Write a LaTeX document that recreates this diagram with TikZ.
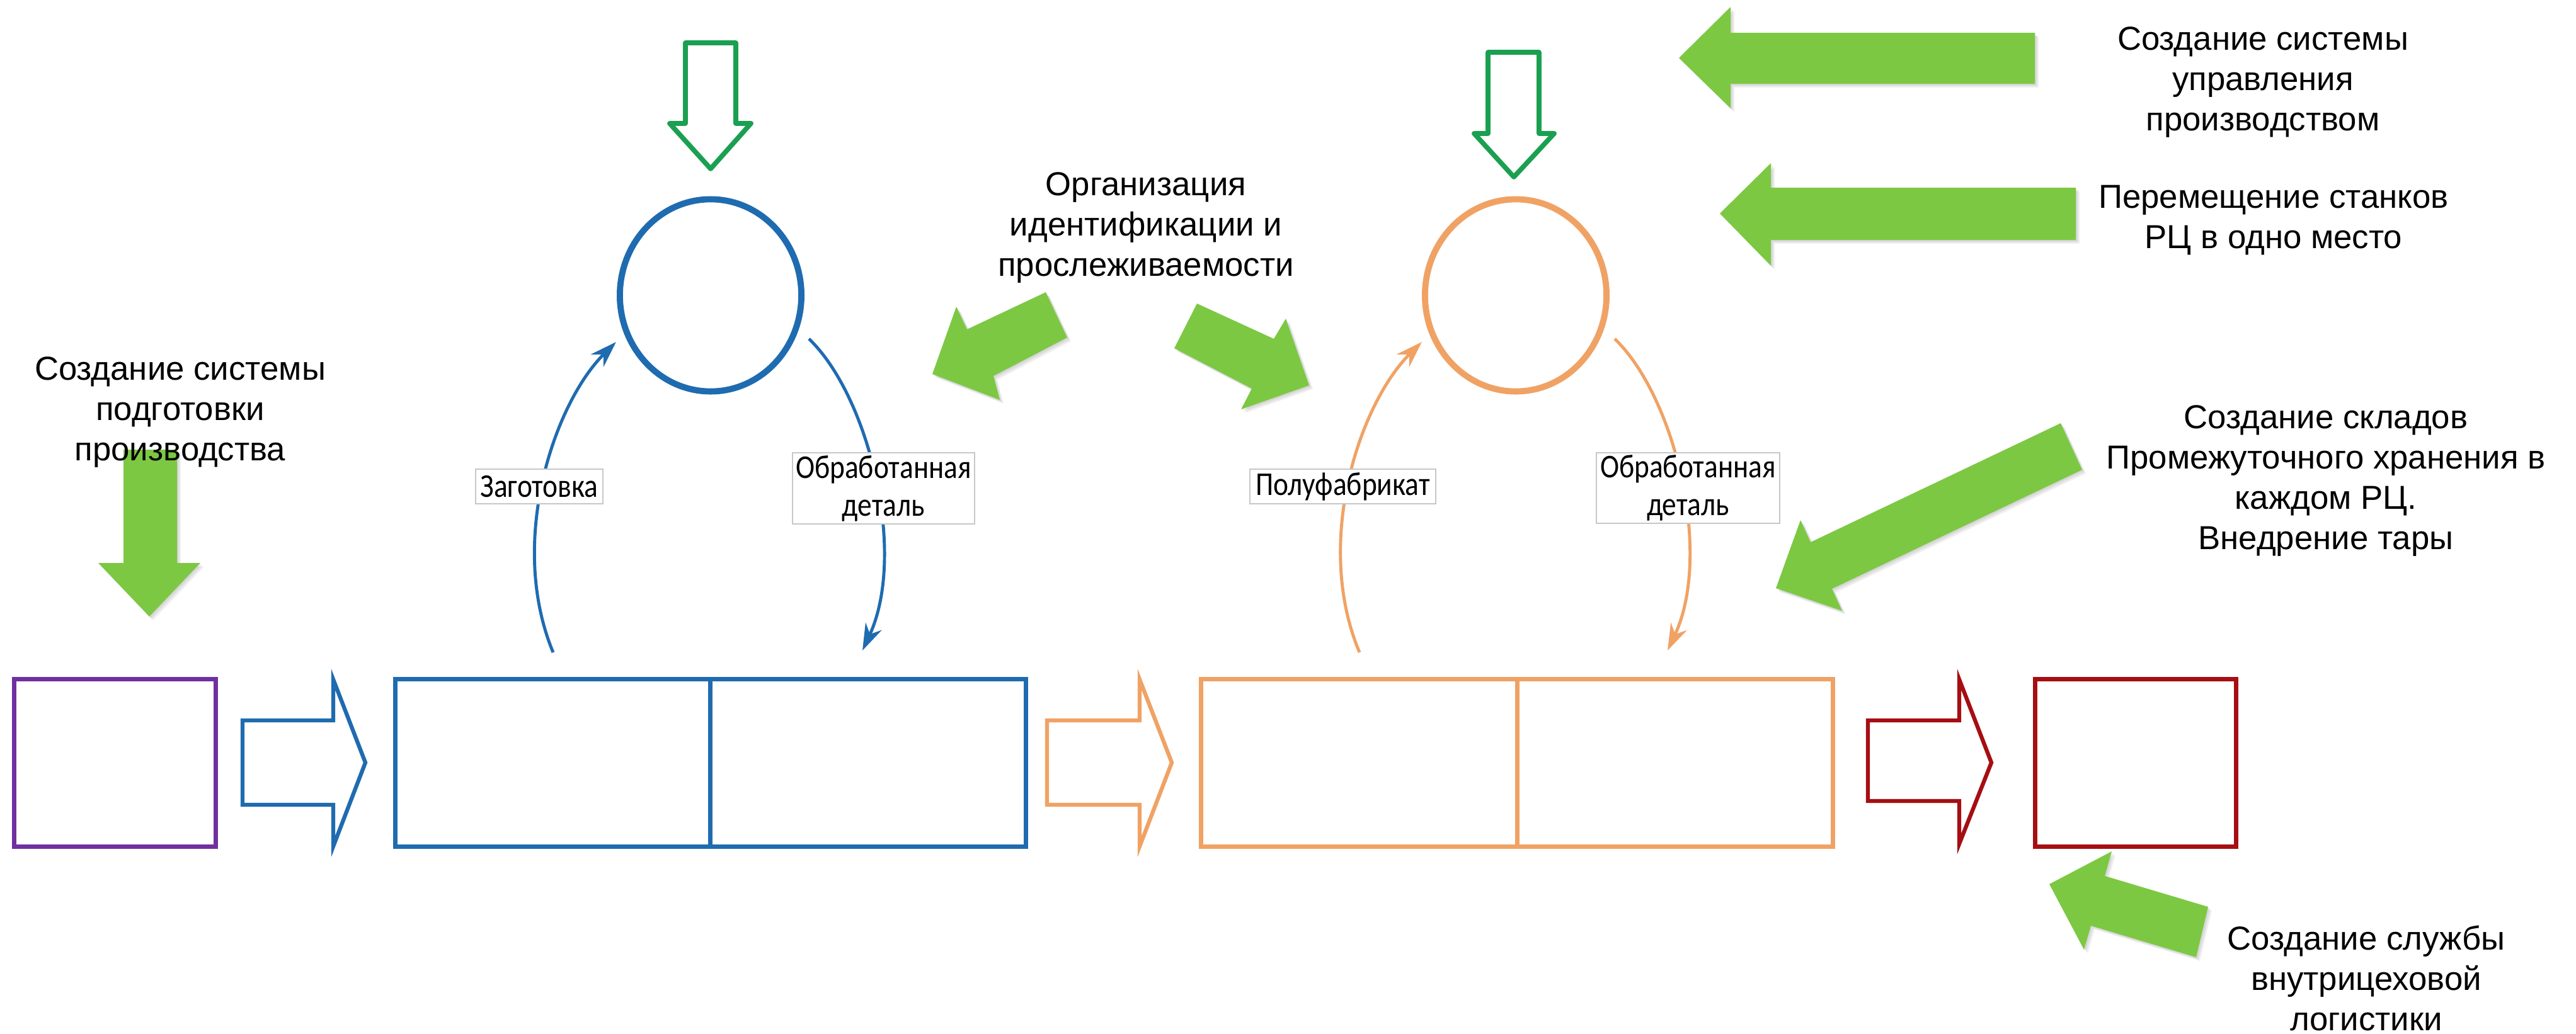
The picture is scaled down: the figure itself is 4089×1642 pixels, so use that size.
\documentclass[tikz,border=0pt]{standalone}
\usepackage{fontspec}
\setmainfont{Liberation Sans}
\newfontfamily\lblfont[FakeStretch=0.86]{Carlito}
\usetikzlibrary{shapes.geometric,arrows.meta}
\definecolor{cblue}{HTML}{1F6BB0}
\definecolor{corange}{HTML}{F0A264}
\definecolor{cpurple}{HTML}{7030A0}
\definecolor{cred}{HTML}{A50E12}
\definecolor{cgreen}{HTML}{7CC843}
\definecolor{cdgreen}{HTML}{1AA050}
\newcommand\greenarrow[1]{%
  \foreach \d in {2,4,6}{\fill[black,opacity=0.06,shift={(\d,\d)}] #1;}%
  \fill[gfill] #1;}
\begin{document}
\begin{tikzpicture}[x=0.01cm,y=-0.01cm,
  txt/.style={align=center,font=\fontsize{15}{18.2}\selectfont,inner sep=0pt},
  lbl/.style={draw=black!22,line width=0.5pt,fill=white,inner sep=0pt,align=center,
    font=\lblfont\fontsize{15}{17}\selectfont},
  gfill/.style={fill=cgreen,draw=none},
  gout/.style={draw=cdgreen,line width=2.2pt,fill=white,line join=round},
  cell/.style={draw,line width=2pt,minimum height=2.65cm,inner sep=0pt,fill=white},
  ring/.style={ellipse,draw,line width=2.8pt,minimum width=2.88cm,minimum height=3.05cm,inner sep=0pt},
  blockarr/.style={line width=1.8pt,fill=white,line join=miter},
  flow/.style={line width=1.4pt,-{Stealth[length=12pt,width=8pt]}}]
\useasboundingbox (0,0) rectangle (4089,1642);

% green filled arrows
\greenarrow{(196,714) -- (281,714) -- (281,894) -- (318,894) -- (237,979) -- (156,894) -- (196,894) -- cycle}
\greenarrow{(1660,464) -- (1535,523) -- (1518,487) -- (1480,594) -- (1587,635) -- (1577,597) -- (1694,536) -- cycle}
\greenarrow{(1900,482) -- (2022,538) -- (2041,506) -- (2078,612) -- (1970,650) -- (1987,617) -- (1864,553) -- cycle}
\greenarrow{(3230,52) -- (2747,52) -- (2747,11) -- (2665,92) -- (2747,172) -- (2747,133) -- (3230,133) -- cycle}
\greenarrow{(3295,298) -- (2811,298) -- (2811,259) -- (2730,339) -- (2811,422) -- (2811,381) -- (3295,381) -- cycle}
\greenarrow{(3271,672) -- (2874,861) -- (2858,826) -- (2819,934) -- (2924,970) -- (2908,935) -- (3305,746) -- cycle}
\greenarrow{(3505,1440) -- (3341,1391) -- (3352,1352) -- (3253,1404) -- (3308,1508) -- (3319,1470) -- (3486,1520) -- cycle}

% green outline arrows
\draw[gout] (1088,68) -- (1168,68) -- (1168,196) -- (1192,196) -- (1128,268) -- (1063,196) -- (1088,196) -- cycle;
\draw[gout] (2362,83) -- (2443,83) -- (2443,212) -- (2467,212) -- (2403,281) -- (2340,212) -- (2362,212) -- cycle;

% rings
\node[ring,draw=cblue] (bc) at (1128,469) {};
\node[ring,draw=corange] (oc) at (2406,469) {};

% process cells
\node[cell,draw=cpurple,minimum width=3.19cm] (p) at (182.5,1211.5) {};
\node[cell,draw=cblue,minimum width=5cm] (b1) at (878,1211.5) {};
\node[cell,draw=cblue,minimum width=5cm] (b2) at (1378,1211.5) {};
\node[cell,draw=corange,minimum width=5.015cm] (o1) at (2157.5,1211.5) {};
\node[cell,draw=corange,minimum width=5.015cm] (o2) at (2659,1211.5) {};
\node[cell,draw=cred,minimum width=3.18cm] (r) at (3390,1211.5) {};

% block arrows
\draw[blockarr,draw=cblue] (385,1144) -- (529,1144) -- (529,1079) -- (580,1211) -- (529,1344) -- (529,1278) -- (385,1278) -- cycle;
\draw[blockarr,draw=corange] (1662,1144) -- (1809,1144) -- (1809,1079) -- (1860,1211) -- (1809,1344) -- (1809,1278) -- (1662,1278) -- cycle;
\draw[blockarr,draw=cred] (2965,1144) -- (3110,1144) -- (3110,1079) -- (3161,1211) -- (3110,1340) -- (3110,1272) -- (2965,1272) -- cycle;

% flow curves
\coordinate (bl0) at (878,1036);  \coordinate (bl1) at (978,543);
\coordinate (br0) at (1284,538);  \coordinate (br1) at (1369,1033);
\coordinate (ol0) at (2158,1036); \coordinate (ol1) at (2257,543);
\coordinate (or0) at (2563,538);  \coordinate (or1) at (2647,1033);
\draw[flow,cblue] (bl0) .. controls (805,860) and (880,640) .. (bl1);
\draw[flow,cblue] (br0) .. controls (1380,630) and (1440,880) .. (br1);
\draw[flow,corange] (ol0) .. controls (2084,860) and (2159,640) .. (ol1);
\draw[flow,corange] (or0) .. controls (2659,630) and (2719,880) .. (or1);

% labels
\node[lbl,minimum width=2.02cm,minimum height=0.55cm] (l1) at (856,772.5) {Заготовка};
\node[lbl,minimum width=2.89cm,minimum height=1.13cm] (l2) at (1402.5,775.5) {Обработанная\\деталь};
\node[lbl,minimum width=2.95cm,minimum height=0.55cm] (l3) at (2131.5,772.5) {Полуфабрикат};
\node[lbl,minimum width=2.91cm,minimum height=1.12cm] (l4) at (2679.5,775) {Обработанная\\деталь};

% texts
\node[txt] (t1) at (286,655) {Создание системы\\подготовки\\производства};
\node[txt] (t2) at (1819,362) {Организация\\идентификации и\\прослеживаемости};
\node[txt] (t3) at (3592,131) {Создание системы\\управления\\производством};
\node[txt] (t4) at (3609,350) {Перемещение станков\\РЦ в одно место};
\node[txt] (t5) at (3692,764) {Создание складов\\Промежуточного хранения в\\каждом РЦ.\\Внедрение тары};
\node[txt] (t6) at (3756,1553) {Создание службы\\внутрицеховой\\логистики};
\end{tikzpicture}
\end{document}
